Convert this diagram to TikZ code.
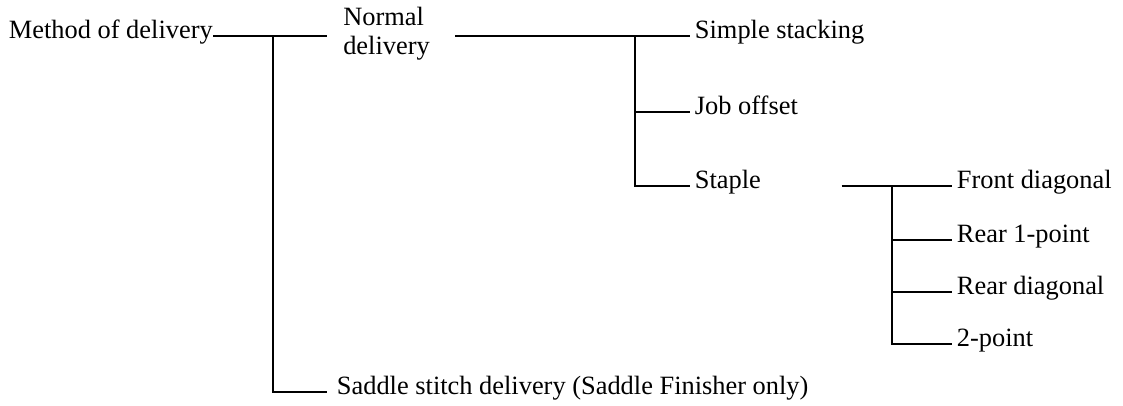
\documentclass[tikz,border=0pt]{standalone}
\usepackage{fontspec}
\setmainfont{Liberation Serif}
\usepackage{tikz}
\usetikzlibrary{positioning}

\begin{document}
\begin{tikzpicture}[
  x=0.75pt, y=-0.75pt,
  font=\fontsize{19.8}{19.5}\selectfont,
  lbl/.style={anchor=west, inner xsep=3.5pt, inner ysep=0pt, text height=0.448em, text depth=0pt},
  twoline/.style={anchor=west, align=left, inner sep=0pt, font=\fontsize{19.8}{21.5}\selectfont},
  link/.style={line width=1.3pt}
]
\useasboundingbox (0,0) rectangle (1123,406);

% tree labels
\node[lbl, anchor=east, inner xsep=0pt] (method) at (213,36) {Method of delivery};
\node[twoline] (normal) at (343,34) {Normal\\delivery};
\node[lbl] (simple) at (690,36) {Simple stacking};
\node[lbl] (job) at (690,112) {Job offset};
\node[lbl] (staple) at (690,186) {Staple};
\node[lbl] (front) at (952,186) {Front diagonal};
\node[lbl] (rear1) at (952,240) {Rear 1-point};
\node[lbl] (reardiag) at (952,292) {Rear diagonal};
\node[lbl] (twopt) at (952,344) {2-point};
\node[lbl] (saddle) at (332,392) {Saddle stitch delivery (Saddle Finisher only)};

% split points
\coordinate (trunk) at (273,36);
\coordinate (split2) at (635,0);
\coordinate (split3) at (892,0);

\draw[link, shorten >=12pt] (method.east) -- (method.east -| normal.west);
\draw[link, shorten >=3.75pt] (trunk) |- (saddle.west);
\draw[link, shorten <=19pt] (normal.east |- simple.west) -- (simple.west);
\draw[link] (split2 |- simple.west) |- (staple.west);
\draw[link] (split2 |- job.west) -- (job.west);
\draw[link, shorten <=56.8pt] (staple.east) -- (front.west);
\draw[link] (split3 |- front.west) |- (twopt.west);
\draw[link] (split3 |- rear1.west) -- (rear1.west);
\draw[link] (split3 |- reardiag.west) -- (reardiag.west);

\end{tikzpicture}
\end{document}
